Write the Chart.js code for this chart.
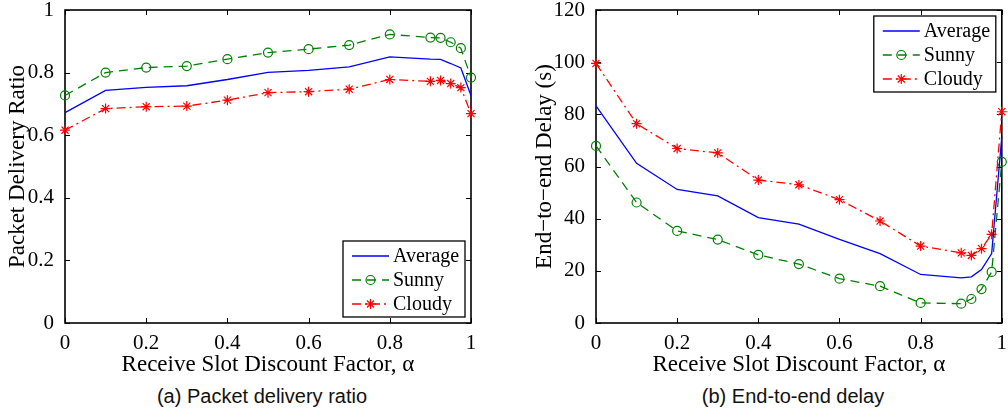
<!DOCTYPE html>
<html>
<head>
<meta charset="utf-8">
<script src="https://cdn.jsdelivr.net/npm/chart.js@4.4.1/dist/chart.umd.min.js"></script>
<style>
    body { margin: 0; background: #fff; width: 1008px; height: 416px; position: relative; overflow: hidden; }
    .wrap { position: absolute; top: 0; height: 380px; }
    .cap { position: absolute; top: 385px; font: 20px "Liberation Sans", Arial, sans-serif; color: #111; text-align: center; line-height: 23px; }
</style>
</head>
<body>
<div class="wrap" style="left:0;width:500px"><canvas id="pdrChart" width="500" height="380"></canvas></div>
<div class="wrap" style="left:500px;width:508px"><canvas id="delayChart" width="508" height="380"></canvas></div>
<div class="cap" style="left:62px;width:400px">(a) Packet delivery ratio</div>
<div class="cap" style="left:593px;width:400px">(b) End-to-end delay</div>
<script>
// receive slot discount factor (alpha)
const alphas = [0, 0.1, 0.2, 0.3, 0.4, 0.5, 0.6, 0.7, 0.8, 0.9, 0.925, 0.95, 0.975, 1];
const xTicks = [0, 0.2, 0.4, 0.6, 0.8, 1];

// (a) packet delivery ratio
const pdrAverage = [0.672, 0.743, 0.753, 0.758, 0.778, 0.801, 0.807, 0.818, 0.850, 0.843, 0.842, 0.829, 0.815, 0.727];
const pdrSunny   = [0.727, 0.800, 0.816, 0.821, 0.843, 0.864, 0.875, 0.888, 0.922, 0.912, 0.911, 0.897, 0.878, 0.784];
const pdrCloudy  = [0.616, 0.685, 0.691, 0.693, 0.712, 0.736, 0.739, 0.747, 0.778, 0.772, 0.775, 0.765, 0.752, 0.669];
const pdrTicks = [0, 0.2, 0.4, 0.6, 0.8, 1];

// (b) end-to-end delay (s)
const delayAverage = [83.2, 61.2, 51.2, 48.7, 40.4, 37.9, 32.1, 26.6, 18.6, 17.3, 17.7, 20.5, 26.6, 71.4];
const delaySunny   = [67.9, 46.2, 35.3, 32.0, 26.1, 22.6, 17.0, 14.1, 7.7, 7.4, 9.2, 13.0, 19.6, 61.8];
const delayCloudy  = [99.5, 76.4, 66.9, 65.2, 54.8, 53.0, 47.3, 39.1, 29.5, 26.9, 25.9, 28.5, 34.0, 81.0];
const delayTicks = [0, 20, 40, 60, 80, 100, 120];

const serif = 'Liberation Serif';
const fmt = v => String(+v.toFixed(2));

// MATLAB-ish box with inward ticks on all four sides
const framePlugin = {
    id: 'frame',
    beforeDatasetsDraw(chart) {
        const { ctx, chartArea: a, scales: { x, y } } = chart;
        ctx.save();
        ctx.strokeStyle = '#000';
        ctx.lineWidth = 1;
        ctx.beginPath();
        x.ticks.forEach(t => {
            const px = Math.round(x.getPixelForValue(t.value)) + 0.5;
            ctx.moveTo(px, a.bottom); ctx.lineTo(px, a.bottom - 5);
            ctx.moveTo(px, a.top); ctx.lineTo(px, a.top + 5);
        });
        y.ticks.forEach(t => {
            const py = Math.round(y.getPixelForValue(t.value)) + 0.5;
            ctx.moveTo(a.left, py); ctx.lineTo(a.left + 5, py);
            ctx.moveTo(a.right, py); ctx.lineTo(a.right - 5, py);
        });
        ctx.stroke();
        ctx.lineWidth = 1.6;
        ctx.strokeRect(a.left, a.top, a.right - a.left, a.bottom - a.top);
        ctx.restore();
    }
};

function drawMarker(ctx, style, x, y, r) {
    ctx.beginPath();
    if (style === 'circle') {
        ctx.arc(x, y, r, 0, Math.PI * 2);
    } else if (style === 'star') {
        for (let k = 0; k < 4; k++) {
            const ang = k * Math.PI / 4;
            ctx.moveTo(x - r * Math.cos(ang), y - r * Math.sin(ang));
            ctx.lineTo(x + r * Math.cos(ang), y + r * Math.sin(ang));
        }
    }
    ctx.stroke();
}

// boxed legend inside the axes
const boxLegend = {
    id: 'boxLegend',
    afterDatasetsDraw(chart, args, opts) {
        const { ctx, chartArea: a } = chart;
        const w = 122, h = 76;
        const left = a.right - 6 - w;
        const top = opts.corner === 'tr' ? a.top + 6 : a.bottom - 6 - h;
        ctx.save();
        ctx.fillStyle = '#fff';
        ctx.fillRect(left, top, w, h);
        ctx.strokeStyle = '#000';
        ctx.lineWidth = 1.3;
        ctx.strokeRect(left, top, w, h);
        chart.data.datasets.forEach((ds, i) => {
            const cy = top + 15 + i * 24;
            ctx.strokeStyle = ds.borderColor;
            ctx.lineWidth = ds.borderWidth;
            ctx.setLineDash(ds.borderDash || []);
            ctx.beginPath();
            ctx.moveTo(left + 9, cy); ctx.lineTo(left + 46, cy);
            ctx.stroke();
            ctx.setLineDash([]);
            if (ds.pointRadius > 0) {
                ctx.lineWidth = ds.pointBorderWidth;
                drawMarker(ctx, ds.pointStyle, left + 27.5, cy, ds.pointRadius);
            }
            ctx.fillStyle = '#000';
            ctx.font = '20px "' + serif + '"';
            ctx.textBaseline = 'middle';
            ctx.textAlign = 'left';
            ctx.fillText(ds.label, left + 50, cy + 1);
        });
        ctx.restore();
    }
};

function series(label, ys, color, dash, marker) {
    return {
        label,
        data: alphas.map((a, i) => ({ x: a, y: ys[i] })),
        borderColor: color,
        borderWidth: 1.3,
        borderDash: dash,
        pointStyle: marker || 'circle',
        pointRadius: marker ? (marker === 'star' ? 5 : 4.5) : 0,
        pointBorderWidth: 1.2,
        pointBorderColor: color,
        pointBackgroundColor: 'rgba(0,0,0,0)',
        pointHoverRadius: 0,
        tension: 0,
        clip: false
    };
}

function makeChart(id, cfg) {
    return new Chart(document.getElementById(id), {
        type: 'line',
        data: {
            datasets: [
                series('Average', cfg.avg, '#0000ff', []),
                series('Sunny', cfg.sunny, '#008000', [9, 6], 'circle'),
                series('Cloudy', cfg.cloudy, '#ff0000', [9, 4, 2, 4], 'star')
            ]
        },
        options: {
            responsive: false,
            animation: false,
            events: [],
            layout: { padding: { top: 10, right: cfg.padRight, left: 0, bottom: 0 } },
            plugins: {
                legend: { display: false },
                tooltip: { enabled: false },
                boxLegend: { corner: cfg.corner }
            },
            scales: {
                x: {
                    type: 'linear', min: 0, max: 1,
                    afterBuildTicks: s => { s.ticks = xTicks.map(v => ({ value: v })); },
                    afterFit: s => { s.height = 57; s.paddingLeft = 0; s.paddingRight = 0; },
                    grid: { display: false },
                    border: { display: false },
                    ticks: { color: '#000', padding: 0, maxRotation: 0, font: { family: serif, size: 21 }, callback: fmt },
                    title: { display: true, text: 'Receive Slot Discount Factor, α', color: '#000', padding: { top: 0, bottom: 1 }, font: { family: serif, size: 23, lineHeight: 1.2 } }
                },
                y: {
                    type: 'linear', min: cfg.yMin, max: cfg.yMax,
                    afterBuildTicks: s => { s.ticks = cfg.yTicks.map(v => ({ value: v })); },
                    afterFit: s => { s.width = cfg.yWidth; s.paddingTop = 0; s.paddingBottom = 0; },
                    grid: { display: false },
                    border: { display: false },
                    ticks: { color: '#000', padding: 3, font: { family: serif, size: 21 }, callback: fmt },
                    title: { display: true, text: cfg.yTitle, color: '#000', padding: { top: cfg.titlePad, bottom: 0 }, font: { family: serif, size: 23, lineHeight: 1.2 } }
                }
            }
        },
        plugins: [framePlugin, boxLegend]
    });
}

makeChart('pdrChart', {
    avg: pdrAverage, sunny: pdrSunny, cloudy: pdrCloudy,
    yMin: 0, yMax: 1, yTicks: pdrTicks, yWidth: 65, padRight: 29,
    yTitle: 'Packet Delivery Ratio', titlePad: 4, corner: 'br'
});

makeChart('delayChart', {
    avg: delayAverage, sunny: delaySunny, cloudy: delayCloudy,
    yMin: 0, yMax: 120, yTicks: delayTicks, yWidth: 96, padRight: 6,
    yTitle: 'End\u2212to\u2212end Delay (s)', titlePad: 31, corner: 'tr'
});
</script>
</body>
</html>
